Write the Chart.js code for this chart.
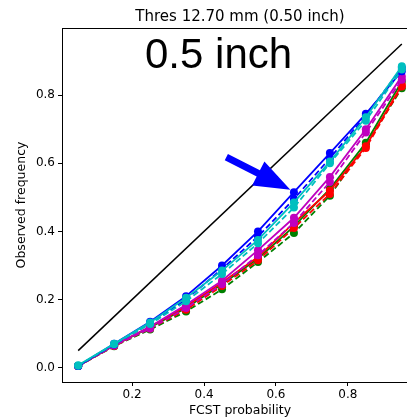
<!DOCTYPE html>
<html>
<head>
<meta charset="utf-8">
<script src="https://cdn.jsdelivr.net/npm/chart.js@4"></script>
<style>
  html, body { margin:0; padding:0; background:#fff; overflow:hidden; }
  #wrap { width:430px; height:418px; }
</style>
</head>
<body>
<div id="wrap"><canvas id="c" width="430" height="418"></canvas></div>
<script>
// reliability diagram, 0.5 inch threshold
const probs = [0.05, 0.15, 0.25, 0.35, 0.45, 0.55, 0.65, 0.75, 0.85, 0.95];
const xTicks = [0.2, 0.4, 0.6, 0.8];
const yTicks = [0.0, 0.2, 0.4, 0.6, 0.8];

const blueSolid    = [0.005, 0.070, 0.135, 0.210, 0.300, 0.400, 0.515, 0.630, 0.745, 0.870];
const blueDash     = [0.005, 0.068, 0.130, 0.200, 0.290, 0.385, 0.495, 0.615, 0.740, 0.880];
const cyanSolid    = [0.007, 0.070, 0.133, 0.205, 0.285, 0.375, 0.485, 0.605, 0.735, 0.885];
const cyanDash     = [0.006, 0.069, 0.128, 0.195, 0.275, 0.365, 0.470, 0.600, 0.725, 0.875];
const magentaSolid = [0.005, 0.066, 0.120, 0.185, 0.255, 0.345, 0.440, 0.560, 0.700, 0.855];
const magentaDash  = [0.005, 0.065, 0.115, 0.175, 0.245, 0.330, 0.425, 0.545, 0.690, 0.845];
const redSolid     = [0.005, 0.066, 0.120, 0.180, 0.250, 0.325, 0.425, 0.520, 0.650, 0.830];
const redDash      = [0.005, 0.064, 0.115, 0.170, 0.240, 0.315, 0.410, 0.510, 0.645, 0.825];
const greenSolid   = [0.005, 0.065, 0.118, 0.175, 0.245, 0.320, 0.415, 0.525, 0.660, 0.840];
const greenDash    = [0.005, 0.063, 0.112, 0.165, 0.230, 0.310, 0.395, 0.505, 0.655, 0.820];
const perfectX = [0.05, 0.95];
const perfectY = [0.05, 0.95];

// arrow in data coords: tail -> tip
const arrowTail = [0.462, 0.618];
const arrowTip  = [0.640, 0.522];

const DV = "'DejaVu Sans', sans-serif";
const pts = (xs, ys) => xs.map((x, i) => ({x, y: ys[i]}));

function ds(data, color, dash) {
  return {data: pts(probs, data), borderColor: color, backgroundColor: color,
    borderWidth: 1.8, pointRadius: 4, pointBorderWidth: 0, pointHoverRadius: 4,
    borderDash: dash ? [6, 3] : [], tension: 0, fill: false};
}

const overlay = {
  id: "overlay",
  afterDraw(chart) {
    const {ctx, chartArea: a, scales: {x, y}} = chart;
    ctx.save();
    // top spine
    ctx.strokeStyle = "#000"; ctx.lineWidth = 1;
    ctx.beginPath(); ctx.moveTo(a.left, a.top + 0.5); ctx.lineTo(a.right, a.top + 0.5); ctx.stroke();
    // titles
    ctx.fillStyle = "#000";
    ctx.textAlign = "center"; ctx.textBaseline = "alphabetic";
    ctx.font = "15px " + DV;
    ctx.fillText("Thres 12.70 mm (0.50 inch)", (a.left + a.right) / 2, 20.5);
    ctx.textAlign = "left";
    ctx.font = "42px 'Liberation Sans', Arial, sans-serif";
    ctx.fillText("0.5 inch", 145, 68);
    // arrow
    const x0 = x.getPixelForValue(arrowTail[0]), y0 = y.getPixelForValue(arrowTail[1]);
    const x1 = x.getPixelForValue(arrowTip[0]),  y1 = y.getPixelForValue(arrowTip[1]);
    const ang = Math.atan2(y1 - y0, x1 - x0);
    const headL = 36, headW = 13.5, shaftW = 3.5;
    const bx = x1 - headL * Math.cos(ang), by = y1 - headL * Math.sin(ang);
    const nx = -Math.sin(ang), ny = Math.cos(ang);
    ctx.fillStyle = "#0000ff";
    ctx.beginPath();
    ctx.moveTo(x0 + nx * shaftW, y0 + ny * shaftW);
    ctx.lineTo(bx + nx * shaftW, by + ny * shaftW);
    ctx.lineTo(bx + nx * headW, by + ny * headW);
    ctx.lineTo(x1, y1);
    ctx.lineTo(bx - nx * headW, by - ny * headW);
    ctx.lineTo(bx - nx * shaftW, by - ny * shaftW);
    ctx.lineTo(x0 - nx * shaftW, y0 - ny * shaftW);
    ctx.closePath(); ctx.fill();
    ctx.restore();
  }
};

new Chart(document.getElementById("c"), {
  type: "line",
  data: {datasets: [
    ds(cyanSolid, "#00bfbf", false),
    ds(cyanDash, "#00bfbf", true),
    ds(blueSolid, "#0000ff", false),
    ds(blueDash, "#0000ff", true),
    ds(magentaSolid, "#bf00bf", false),
    ds(magentaDash, "#bf00bf", true),
    ds(redSolid, "#ff0000", false),
    ds(redDash, "#ff0000", true),
    ds(greenSolid, "#008000", false),
    ds(greenDash, "#008000", true),
    {data: pts(perfectX, perfectY), borderColor: "#000", borderWidth: 1.5, pointRadius: 0, fill: false},
  ]},
  options: {
    responsive: false, animation: false, devicePixelRatio: 1,
    layout: {padding: {top: 28, right: 12, bottom: 0, left: 0}},
    plugins: {legend: {display: false}, tooltip: {enabled: false}},
    scales: {
      x: {type: "linear", min: 0.005, max: 0.995,
        afterFit: s => { s.height = 36; },
        afterBuildTicks: s => { s.ticks = xTicks.map(v => ({value: v})); },
        grid: {drawOnChartArea: false, drawTicks: true, tickLength: 4, tickColor: "#000"},
        border: {display: true, color: "#000", width: 1},
        ticks: {color: "#000", padding: 2, font: {family: DV, size: 12}, callback: v => v.toFixed(1), maxRotation: 0},
        title: {display: true, text: "FCST probability", color: "#000", font: {family: DV, size: 12.5}, padding: {top: 0, bottom: 0}}},
      y: {type: "linear", min: -0.042, max: 0.997,
        afterFit: s => { s.width = 62; },
        afterBuildTicks: s => { s.ticks = yTicks.map(v => ({value: v})); },
        grid: {drawOnChartArea: false, drawTicks: true, tickLength: 4, tickColor: "#000"},
        border: {display: true, color: "#000", width: 1},
        ticks: {color: "#000", padding: 3, font: {family: DV, size: 12}, callback: v => v.toFixed(1)},
        title: {display: true, text: "Observed frequency", color: "#000", font: {family: DV, size: 12.5}, padding: {top: 14, bottom: 0}}},
    },
  },
  plugins: [overlay],
});
</script>
</body>
</html>
